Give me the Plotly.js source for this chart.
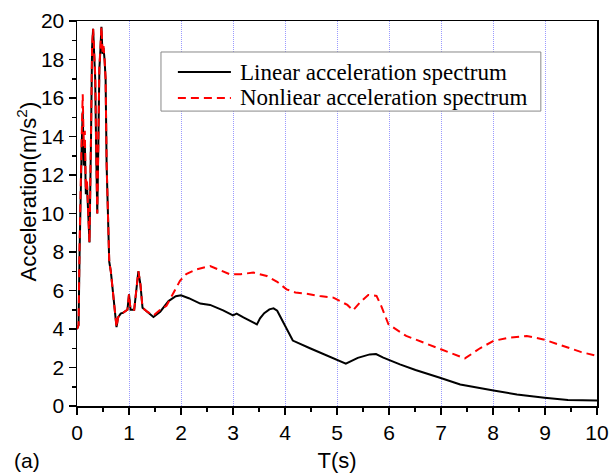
<!DOCTYPE html>
<html>
<head>
<meta charset="utf-8">
<script src="https://cdn.plot.ly/plotly-3.0.1.min.js"></script>
<style>html,body{margin:0;padding:0;background:#fff;}#chart{width:611px;height:476px;}</style>
</head>
<body>
<div id="chart"></div>
<script>
// Period T (s) and spectral acceleration (m/s^2)
const tLinear = [0, 0.03, 0.05, 0.07, 0.09, 0.11, 0.13, 0.15, 0.17, 0.19, 0.21, 0.24, 0.27, 0.29, 0.31, 0.33, 0.35, 0.37, 0.39, 0.41, 0.43, 0.45, 0.47, 0.49, 0.51, 0.53, 0.55, 0.57, 0.59, 0.62, 0.65, 0.68, 0.70, 0.73, 0.76, 0.79, 0.84, 0.89, 0.94, 0.97, 1.0, 1.03, 1.07, 1.10, 1.14, 1.18, 1.22, 1.26, 1.35, 1.47, 1.6, 1.76, 1.9, 2.0, 2.15, 2.37, 2.56, 2.81, 3.0, 3.07, 3.2, 3.46, 3.52, 3.6, 3.7, 3.78, 3.85, 3.94, 4.05, 4.15, 4.48, 4.93, 5.17, 5.4, 5.63, 5.75, 5.89, 6.21, 6.51, 6.98, 7.37, 8.01, 8.46, 8.99, 9.44, 10];
const aLinear = [4.0, 4.2, 8.0, 12.0, 13.5, 15.3, 12.5, 13.8, 11.0, 11.6, 10.5, 8.5, 14.0, 18.6, 19.6, 18.6, 17.0, 13.0, 10.0, 13.5, 17.5, 18.5, 19.7, 18.3, 18.6, 18.0, 17.0, 12.5, 10.0, 7.5, 7.0, 6.3, 5.6, 5.0, 4.1, 4.6, 4.8, 4.85, 4.95, 5.0, 5.8, 5.0, 5.0, 5.0, 6.0, 7.0, 6.3, 5.1, 4.9, 4.62, 4.9, 5.45, 5.7, 5.75, 5.6, 5.32, 5.25, 4.97, 4.71, 4.8, 4.6, 4.24, 4.55, 4.82, 5.02, 5.07, 4.95, 4.5, 3.9, 3.4, 3.0, 2.47, 2.2, 2.5, 2.68, 2.7, 2.51, 2.16, 1.87, 1.47, 1.12, 0.81, 0.6, 0.43, 0.31, 0.29];

const tNonlinear = [0, 0.03, 0.05, 0.07, 0.09, 0.11, 0.13, 0.15, 0.17, 0.19, 0.21, 0.24, 0.27, 0.29, 0.31, 0.33, 0.35, 0.37, 0.39, 0.41, 0.43, 0.45, 0.47, 0.49, 0.51, 0.53, 0.55, 0.57, 0.59, 0.62, 0.65, 0.68, 0.70, 0.73, 0.76, 0.79, 0.84, 0.89, 0.94, 0.97, 1.0, 1.03, 1.07, 1.10, 1.14, 1.18, 1.22, 1.26, 1.35, 1.47, 1.6, 1.72, 1.78, 1.9, 1.98, 2.1, 2.3, 2.56, 2.75, 2.94, 3.15, 3.39, 3.65, 3.85, 4.03, 4.2, 4.42, 4.67, 4.93, 5.2, 5.31, 5.45, 5.6, 5.76, 5.85, 5.99, 6.33, 6.7, 6.98, 7.25, 7.46, 7.75, 8.01, 8.3, 8.65, 8.97, 9.2, 9.44, 9.7, 10];
const aNonlinear = [4.0, 4.2, 8.5, 12.3, 14.0, 16.2, 13.5, 14.3, 11.2, 11.8, 10.6, 8.5, 14.2, 18.7, 19.6, 18.7, 17.2, 13.2, 10.0, 13.6, 17.6, 18.6, 19.7, 18.4, 18.7, 18.0, 17.0, 12.6, 10.0, 7.5, 7.0, 6.3, 5.6, 5.0, 4.1, 4.6, 4.8, 4.85, 4.95, 5.0, 5.8, 5.0, 5.0, 5.0, 6.0, 7.0, 6.3, 5.1, 4.9, 4.7, 5.0, 5.2, 5.5, 6.1, 6.5, 6.85, 7.1, 7.27, 7.05, 6.84, 6.85, 6.93, 6.75, 6.45, 6.06, 5.9, 5.83, 5.71, 5.63, 5.25, 4.97, 5.4, 5.77, 5.72, 5.2, 4.24, 3.64, 3.25, 2.94, 2.65, 2.47, 3.0, 3.38, 3.55, 3.64, 3.46, 3.25, 3.03, 2.8, 2.6];

const seriesNames = ["Linear acceleration spectrum", "Nonliear acceleration spectrum"];
const xTitle = "T(s)";
const yTitle = "Acceleration(m/s<sup>2</sup>)";
const panelLabel = "(a)";

const lineStyles = [
  {color: "#000000", width: 2},
  {color: "#ff0000", width: 2, dash: "8px,5px"}
];

const traces = [
  {x: tLinear, y: aLinear, name: seriesNames[0], type: "scatter", mode: "lines", line: lineStyles[0]},
  {x: tNonlinear, y: aNonlinear, name: seriesNames[1], type: "scatter", mode: "lines", line: lineStyles[1]}
];

const tickFont = {family: "Liberation Sans, Arial, sans-serif", size: 21, color: "#000"};
const titleFont = {family: "Liberation Sans, Arial, sans-serif", size: 22, color: "#000"};
const legendFont = {family: "Liberation Serif, Times New Roman, serif", size: 23, color: "#000"};

// manual legend (box, line samples, labels) in paper coordinates
const legBox = {x0: 0.1615, x1: 0.892, y0: 0.766, y1: 0.9195};
const legRowsY = [0.8675, 0.80];
const legSampleX = [0.194, 0.296];
const legTextX = 0.3096;

const shapes = [
  {type: "rect", xref: "paper", yref: "paper", x0: legBox.x0, x1: legBox.x1, y0: legBox.y0, y1: legBox.y1,
   line: {color: "#888", width: 1}, fillcolor: "#fff", layer: "above"}
];
const annotations = [];
seriesNames.forEach((nm, i) => {
  shapes.push({type: "line", xref: "paper", yref: "paper", x0: legSampleX[0], x1: legSampleX[1],
    y0: legRowsY[i], y1: legRowsY[i], line: lineStyles[i], layer: "above"});
  annotations.push({text: nm, xref: "paper", yref: "paper", x: legTextX, y: legRowsY[i],
    xanchor: "left", yanchor: "middle", showarrow: false, font: legendFont});
});
annotations.push({text: yTitle, xref: "paper", yref: "paper", x: -0.097, y: 0.556, textangle: -90,
  xanchor: "center", yanchor: "middle", showarrow: false, font: titleFont});
annotations.push({text: panelLabel, xref: "paper", yref: "paper", x: -0.096, y: -0.142,
  xanchor: "center", yanchor: "middle", showarrow: false, font: tickFont});

const layout = {
  width: 611, height: 476,
  margin: {l: 77, r: 14, t: 21, b: 70},
  paper_bgcolor: "#fff", plot_bgcolor: "#fff",
  showlegend: false,
  xaxis: {
    range: [0, 10], dtick: 1, tick0: 0,
    showline: true, linecolor: "#000", linewidth: 1.5, mirror: true,
    ticks: "outside", ticklen: 7, tickwidth: 1.5, tickcolor: "#000",
    minor: {dtick: 0.5, ticks: "outside", ticklen: 4, tickwidth: 1.5, tickcolor: "#000", showgrid: false},
    showgrid: true, gridcolor: "#9a9aff", griddash: "1px,1px", gridwidth: 1,
    zeroline: false,
    tickfont: tickFont,
    title: {text: xTitle, font: titleFont, standoff: 10}
  },
  yaxis: {
    range: [0, 20], dtick: 2, tick0: 0,
    showline: true, linecolor: "#000", linewidth: 1.5, mirror: true,
    ticks: "outside", ticklen: 7, tickwidth: 1.5, tickcolor: "#000",
    minor: {dtick: 1, ticks: "outside", ticklen: 4, tickwidth: 1.5, tickcolor: "#000", showgrid: false},
    showgrid: false, zeroline: false,
    tickfont: tickFont
  },
  shapes: shapes,
  annotations: annotations
};

Plotly.newPlot("chart", traces, layout, {staticPlot: true, displayModeBar: false});
</script>
</body>
</html>
